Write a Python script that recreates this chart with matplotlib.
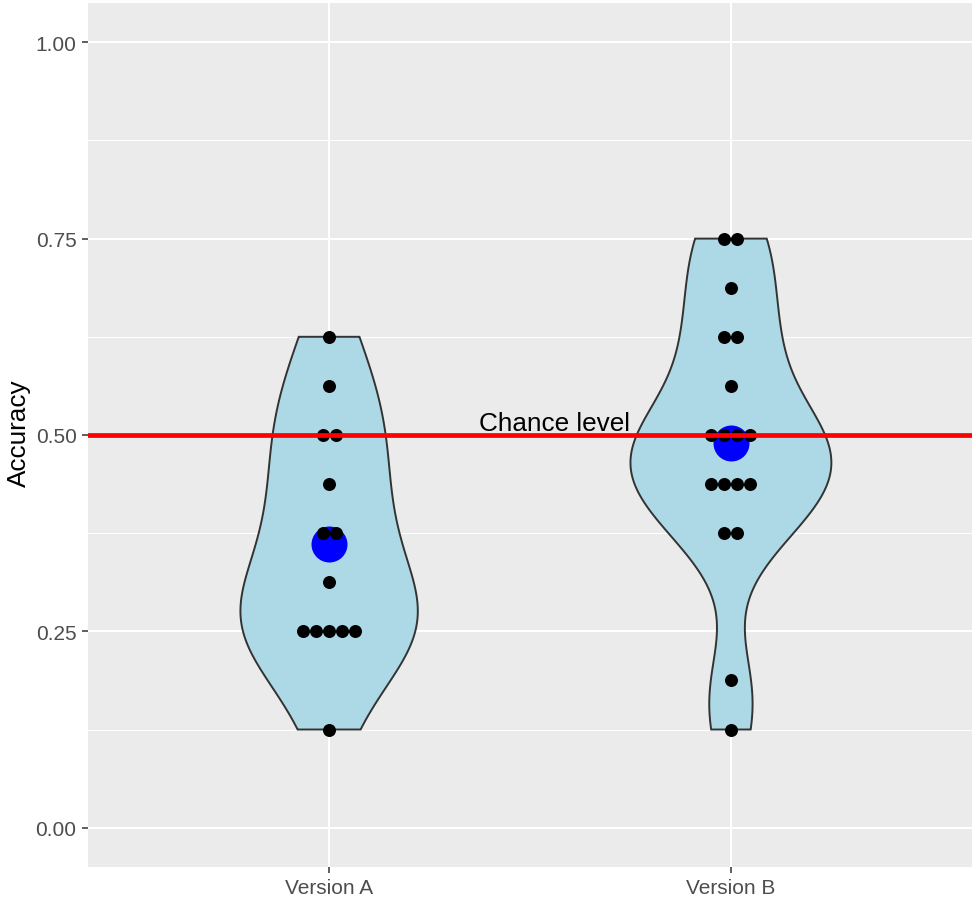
import numpy as np
import matplotlib
matplotlib.use("Agg")
import matplotlib.pyplot as plt

plt.rcParams['font.family'] = ['Liberation Sans', 'DejaVu Sans']

# accuracy per participant
groups = ["Version A", "Version B"]
acc_a = [0.625, 0.5625, 0.5, 0.5, 0.4375, 0.375, 0.375, 0.3125,
         0.25, 0.25, 0.25, 0.25, 0.25, 0.125]
acc_b = [0.75, 0.75, 0.6875, 0.625, 0.625, 0.5625, 0.5, 0.5, 0.5, 0.5,
         0.4375, 0.4375, 0.4375, 0.4375, 0.375, 0.375, 0.1875, 0.125]
data = [acc_a, acc_b]
chance = 0.5
yticks = [0.0, 0.25, 0.5, 0.75, 1.0]
ytick_labels = ["0.00", "0.25", "0.50", "0.75", "1.00"]


def bw_nrd0(x):
    x = np.asarray(x)
    sd = np.std(x, ddof=1)
    iqr = np.subtract(*np.percentile(x, [75, 25]))
    lo = min(sd, iqr / 1.34)
    return 0.9 * lo * len(x) ** -0.2


def kde(x, grid):
    x = np.asarray(x)
    bw = bw_nrd0(x)
    z = (grid[:, None] - x[None, :]) / bw
    return np.exp(-0.5 * z ** 2).sum(axis=1) / (len(x) * bw * np.sqrt(2 * np.pi))


fig = plt.figure(figsize=(9.76, 9.03), dpi=100)
ax = fig.add_axes([0.0902, 0.0388, 0.9057, 0.9568])
ax.set_facecolor("#EBEBEB")
ax.set_xlim(0.4, 2.6)
ax.set_ylim(-0.05, 1.05)

# grid
for y in [0.125, 0.375, 0.625, 0.875]:
    ax.axhline(y, color="white", lw=0.75, zorder=0)
for y in yticks:
    ax.axhline(y, color="white", lw=1.5, zorder=0)
for x in [1, 2]:
    ax.axvline(x, color="white", lw=1.5, zorder=0)

# violins (trimmed, area-scaled, width 0.5)
dens = []
grids = []
for vals in data:
    g = np.linspace(min(vals), max(vals), 512)
    grids.append(g)
    dens.append(kde(vals, g))
dmax = max(d.max() for d in dens)
for i, (g, d) in enumerate(zip(grids, dens)):
    pos = i + 1
    hw = 0.25 * d / dmax
    xs = np.concatenate([pos - hw, (pos + hw)[::-1]])
    ys = np.concatenate([g, g[::-1]])
    ax.fill(xs, ys, facecolor="#ADD8E6", edgecolor="#333333", lw=1.4, zorder=2)

# mean points
for i, vals in enumerate(data):
    ax.scatter([i + 1], [np.mean(vals)], s=671, color="blue", lw=0, zorder=3)

# dotplot, centred stacks
ax_w_px = 0.9057 * 976
dot_px = 13.0
dx = dot_px / (ax_w_px / 2.2)
for i, vals in enumerate(data):
    uniq, counts = np.unique(vals, return_counts=True)
    for v, n in zip(uniq, counts):
        offs = (np.arange(n) - (n - 1) / 2) * dx
        ax.scatter(i + 1 + offs, [v] * n, s=(dot_px * 0.72) ** 2, color="black",
                   lw=0, zorder=4)

# chance line
ax.axhline(chance, color="red", lw=3.4, zorder=5)
ax.text(1.56, 0.506, "Chance level", ha="center", va="baseline", fontsize=18.8,
        color="black", zorder=6)

ax.set_xticks([1, 2])
ax.set_xticklabels(groups)
ax.set_yticks(yticks)
ax.set_yticklabels(ytick_labels)
ax.tick_params(axis="both", length=4.3, width=1.1, color="#333333",
               labelcolor="#4D4D4D", labelsize=15, pad=4)
ax.set_ylabel("Accuracy", fontsize=18.8, color="black")
ax.yaxis.label.set_va("center")
ax.yaxis.set_label_coords(-0.078, 0.503)
for s in ax.spines.values():
    s.set_visible(False)

fig.savefig("out.png", dpi=100)
